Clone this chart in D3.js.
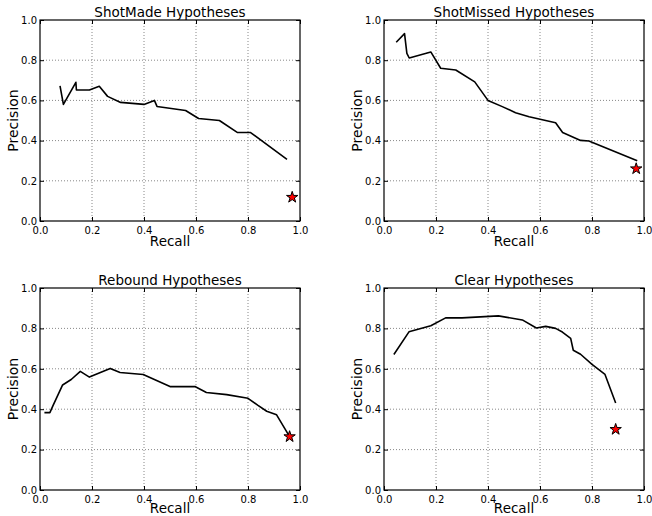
<!DOCTYPE html>
<html><head><meta charset="utf-8">
<script src="https://cdn.jsdelivr.net/npm/d3@7"></script>
<style>body{margin:0;background:#fff}svg{display:block}</style>
</head><body>
<svg id="c" width="652" height="516"></svg>
<script>
const titles = ["ShotMade Hypotheses","ShotMissed Hypotheses","Rebound Hypotheses","Clear Hypotheses"];
const tickValues = [0,0.2,0.4,0.6,0.8,1.0];
const shotMadeRecall =    [0.077,0.09,0.138,0.14,0.19,0.228,0.26,0.31,0.40,0.44,0.45,0.56,0.61,0.69,0.76,0.81,0.95];
const shotMadePrecision = [0.672,0.58,0.69,0.652,0.652,0.67,0.62,0.59,0.58,0.60,0.57,0.55,0.51,0.50,0.44,0.44,0.307];
const shotMissedRecall =    [0.047,0.079,0.088,0.097,0.18,0.218,0.276,0.349,0.40,0.455,0.506,0.558,0.66,0.687,0.756,0.788,0.974];
const shotMissedPrecision = [0.889,0.932,0.834,0.811,0.841,0.76,0.751,0.692,0.60,0.569,0.539,0.519,0.489,0.44,0.401,0.398,0.30];
const reboundRecall =    [0.017,0.038,0.05,0.087,0.12,0.155,0.19,0.27,0.308,0.397,0.5,0.596,0.64,0.718,0.80,0.837,0.872,0.91,0.96];
const reboundPrecision = [0.383,0.383,0.418,0.52,0.547,0.587,0.559,0.602,0.582,0.572,0.512,0.512,0.483,0.472,0.454,0.42,0.39,0.372,0.264];
const clearRecall =    [0.038,0.096,0.18,0.237,0.30,0.44,0.532,0.586,0.622,0.66,0.686,0.718,0.728,0.756,0.80,0.85,0.891];
const clearPrecision = [0.671,0.783,0.813,0.852,0.852,0.862,0.842,0.802,0.81,0.80,0.782,0.751,0.692,0.672,0.622,0.572,0.431];
const starRecall =    [0.97,0.97,0.96,0.891];
const starPrecision = [0.118,0.26,0.264,0.30];

const series = [
  [shotMadeRecall, shotMadePrecision],
  [shotMissedRecall, shotMissedPrecision],
  [reboundRecall, reboundPrecision],
  [clearRecall, clearPrecision]
];
const panels = [
  {x0:40,y0:20,w:260,h:201,lab:25},
  {x0:384,y0:20,w:260,h:201,lab:25},
  {x0:40,y0:288,w:260,h:202,lab:23},
  {x0:384,y0:288,w:260,h:202,lab:23}
];
const svg = d3.select("#c");
const font = "DejaVu Sans, sans-serif";
const fmt = d3.format(".1f");

panels.forEach((p,i)=>{
  const g = svg.append("g").attr("transform",`translate(${p.x0},${p.y0})`);
  const x = d3.scaleLinear().domain([0,1]).range([0,p.w]);
  const y = d3.scaleLinear().domain([0,1]).range([p.h,0]);
  // grid
  g.append("g").selectAll("line").data(tickValues.slice(1,-1)).join("line")
    .attr("x1",d=>x(d)).attr("x2",d=>x(d)).attr("y1",0).attr("y2",p.h)
    .attr("stroke","#888").attr("stroke-width",1).attr("stroke-dasharray","1,2");
  g.append("g").selectAll("line").data(tickValues.slice(1,-1)).join("line")
    .attr("y1",d=>y(d)).attr("y2",d=>y(d)).attr("x1",0).attr("x2",p.w)
    .attr("stroke","#888").attr("stroke-width",1).attr("stroke-dasharray","1,2");
  // axes
  const xa = g.append("g").attr("transform",`translate(0,${p.h})`)
    .call(d3.axisBottom(x).tickValues(tickValues).tickFormat(fmt).tickSizeInner(-4).tickSizeOuter(0).tickPadding(6));
  const xt = g.append("g")
    .call(d3.axisTop(x).tickValues(tickValues).tickFormat("").tickSizeInner(-4).tickSizeOuter(0));
  const ya = g.append("g")
    .call(d3.axisLeft(y).tickValues(tickValues).tickFormat(fmt).tickSizeInner(-4).tickSizeOuter(0).tickPadding(3));
  const yr = g.append("g").attr("transform",`translate(${p.w},0)`)
    .call(d3.axisRight(y).tickValues(tickValues).tickFormat("").tickSizeInner(-4).tickSizeOuter(0));
  [xa,xt,ya,yr].forEach(a=>{
    a.select(".domain").remove();
    a.selectAll("text").attr("font-family",font).attr("font-size",10).attr("fill","#000");
    a.selectAll("line").attr("stroke","#000");
  });
  // frame
  g.append("rect").attr("x",0).attr("y",0).attr("width",p.w).attr("height",p.h)
    .attr("fill","none").attr("stroke","#000").attr("stroke-width",1.2);
  // line
  const [rx, py] = series[i];
  const pts = rx.map((v,k)=>[v,py[k]]);
  g.append("path").datum(pts)
    .attr("d",d3.line().x(d=>x(d[0])).y(d=>y(d[1])))
    .attr("fill","none").attr("stroke","#000").attr("stroke-width",1.6).attr("stroke-linejoin","round");
  // star
  g.append("path")
    .attr("d",d3.symbol().type(d3.symbolStar).size(40)())
    .attr("transform",`translate(${x(starRecall[i])},${y(starPrecision[i])})`)
    .attr("fill","#ff0000").attr("stroke","#000").attr("stroke-width",1);
  // title
  g.append("text").attr("x",p.w/2).attr("y",-3).attr("text-anchor","middle")
    .attr("font-family",font).attr("font-size",13.5).text(titles[i]);
  g.append("text").attr("x",p.w/2).attr("y",p.h+p.lab).attr("text-anchor","middle")
    .attr("font-family",font).attr("font-size",13.5).text("Recall");
  g.append("text").attr("transform",`translate(-22,${p.h/2}) rotate(-90)`).attr("text-anchor","middle")
    .attr("font-family",font).attr("font-size",14).text("Precision");
});
</script>
</body></html>
